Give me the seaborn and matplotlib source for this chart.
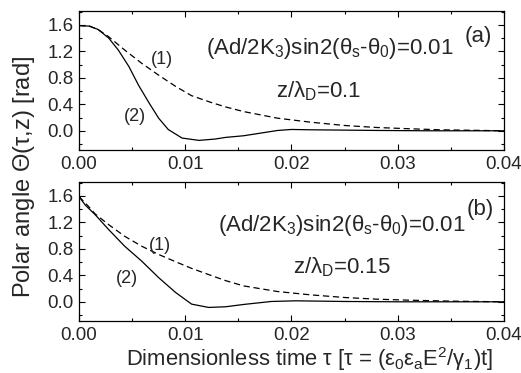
import numpy as np
import pandas as pd
import matplotlib
matplotlib.use("Agg")
import matplotlib.pyplot as plt
import seaborn as sns
from matplotlib.ticker import MultipleLocator, FormatStrFormatter

# ---- data ----
tau_a1 = [0.0, 0.0010, 0.0018, 0.0028, 0.0043, 0.0059, 0.0075, 0.0091, 0.0106, 0.0124,
          0.0138, 0.0155, 0.0187, 0.0218, 0.0250, 0.0280, 0.0312, 0.0340, 0.0400]
theta_a1 = [1.59, 1.58, 1.53, 1.42, 1.22, 1.02, 0.84, 0.67, 0.53, 0.43,
            0.36, 0.29, 0.19, 0.13, 0.08, 0.05, 0.03, 0.015, 0.0]

tau_a2 = [0.0, 0.0010, 0.0018, 0.0028, 0.0037, 0.0047, 0.0056, 0.0066, 0.0075, 0.0084,
          0.0097, 0.0113, 0.0128, 0.0138, 0.0155, 0.0187, 0.0200, 0.0218, 0.0280, 0.0330, 0.0400]
theta_a2 = [1.59, 1.58, 1.53, 1.40, 1.22, 0.97, 0.69, 0.42, 0.19, 0.02,
            -0.11, -0.145, -0.125, -0.10, -0.075, 0.005, 0.02, 0.015, 0.005, 0.0, 0.0]

tau_b1 = [0.0, 0.0009, 0.0015, 0.0028, 0.0043, 0.0059, 0.0075, 0.0091, 0.0106, 0.0124,
          0.0138, 0.0155, 0.0187, 0.0218, 0.0250, 0.0280, 0.0310, 0.0350, 0.0400]
theta_b1 = [1.59, 1.44, 1.33, 1.165, 0.99, 0.84, 0.715, 0.605, 0.505, 0.40,
            0.32, 0.24, 0.155, 0.105, 0.065, 0.04, 0.025, 0.01, 0.0]

tau_b2 = [0.0, 0.0006, 0.0015, 0.0028, 0.0043, 0.0059, 0.0075, 0.0091, 0.0106, 0.0122,
          0.0138, 0.0155, 0.0181, 0.0204, 0.0250, 0.0300, 0.0400]
theta_b2 = [1.59, 1.46, 1.32, 1.09, 0.84, 0.615, 0.365, 0.14, -0.035, -0.085,
            -0.075, -0.04, 0.005, 0.015, 0.005, 0.0, 0.0]

curve_names = ["(1)", "(2)"]
panel_labels = ["(a)", "(b)"]
param_text = r"(Ad/2K$_3$)sin2($\theta_s$-$\theta_0$)=0.01"
z_texts = [r"z/$\lambda_D$=0.1", r"z/$\lambda_D$=0.15"]
x_ticks = [0.00, 0.01, 0.02, 0.03, 0.04]
y_ticks = [0.0, 0.4, 0.8, 1.2, 1.6]

def make_df(t1, y1, t2, y2):
    return pd.concat([
        pd.DataFrame({"tau": t1, "theta": y1, "curve": curve_names[0]}),
        pd.DataFrame({"tau": t2, "theta": y2, "curve": curve_names[1]}),
    ], ignore_index=True)

df_a = make_df(tau_a1, theta_a1, tau_a2, theta_a2)
df_b = make_df(tau_b1, theta_b1, tau_b2, theta_b2)

# ---- style ----
sns.set_style("ticks")
plt.rcParams["font.family"] = ["Liberation Sans", "DejaVu Sans"]
plt.rcParams["mathtext.fontset"] = "custom"
plt.rcParams["mathtext.rm"] = "Liberation Sans"
plt.rcParams["mathtext.it"] = "Liberation Sans"
plt.rcParams["mathtext.bf"] = "Liberation Sans:bold"

fig = plt.figure(figsize=(5.21, 3.73), dpi=100)
ax_a = fig.add_axes([0.1516, 0.5979, 0.8157, 0.3727])
ax_b = fig.add_axes([0.1516, 0.1394, 0.8157, 0.3727])

for ax, df in [(ax_a, df_a), (ax_b, df_b)]:
    sns.lineplot(data=df, x="tau", y="theta", style="curve",
                 dashes={curve_names[0]: (5, 3), curve_names[1]: ""},
                 color="black", linewidth=0.9, legend=False, ax=ax,
                 sort=False, estimator=None)
    ax.set_xlim(0, 0.04)
    ax.set_ylim(-0.29, 1.81)
    ax.set_xticks(x_ticks)
    ax.set_yticks(y_ticks)
    ax.xaxis.set_minor_locator(MultipleLocator(0.005))
    ax.yaxis.set_minor_locator(MultipleLocator(0.2))
    ax.xaxis.set_major_formatter(FormatStrFormatter("%.2f"))
    ax.yaxis.set_major_formatter(FormatStrFormatter("%.1f"))
    ax.tick_params(which="both", direction="in", top=True, right=True,
                   labelsize=13.5, width=0.8, color="black", pad=4)
    ax.tick_params(which="major", length=4.5)
    ax.tick_params(which="minor", length=2.5)
    ax.set_xlabel("")
    ax.set_ylabel("")
    for s in ax.spines.values():
        s.set_linewidth(0.9)
        s.set_color("black")

# annotations panel (a)
ax_a.text(0.00783, 1.07, curve_names[0], fontsize=13, ha="center", va="center")
ax_a.text(0.00528, 0.21, curve_names[1], fontsize=13, ha="center", va="center")
ax_a.text(0.0236, 1.24, param_text, fontsize=16, ha="center", va="center")
ax_a.text(0.0185, 0.60, z_texts[0], fontsize=16, ha="left", va="center")
ax_a.text(0.03755, 1.42, panel_labels[0], fontsize=16, ha="center", va="center")

# annotations panel (b)
ax_b.text(0.00764, 0.845, curve_names[0], fontsize=13, ha="center", va="center")
ax_b.text(0.00453, 0.35, curve_names[1], fontsize=13, ha="center", va="center")
ax_b.text(0.0247, 1.16, param_text, fontsize=16, ha="center", va="center")
ax_b.text(0.0201, 0.52, z_texts[1], fontsize=16, ha="left", va="center")
ax_b.text(0.0378, 1.40, panel_labels[1], fontsize=16, ha="center", va="center")

fig.text(0.595, 0.019, r"Dimensionless time $\tau$ [$\tau$ = ($\varepsilon_0\varepsilon_a$E$^2$/$\gamma_1$)t]",
         fontsize=15.8, ha="center", va="baseline")
fig.text(0.046, 0.525, r"Polar angle $\Theta$($\tau$,z) [rad]", fontsize=17,
         rotation=90, ha="center", va="center")

fig.savefig("out.png", dpi=100)
